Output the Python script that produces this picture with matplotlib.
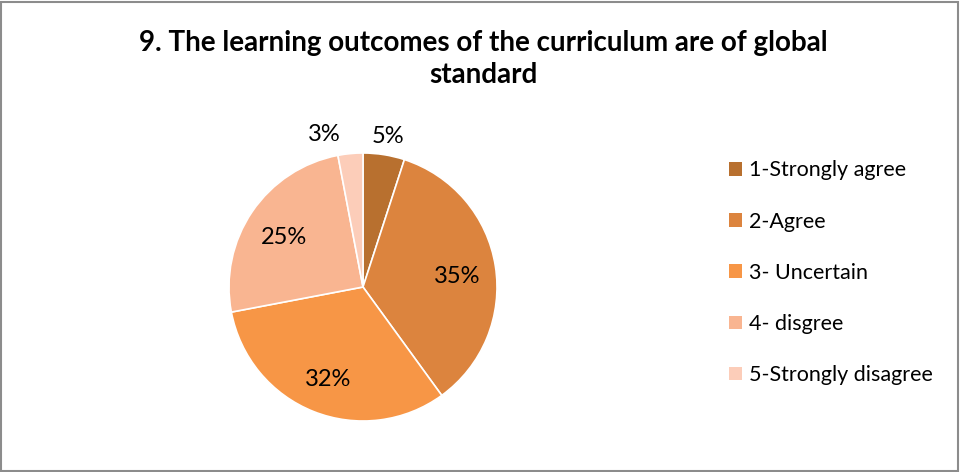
import numpy as np
import matplotlib.pyplot as plt
from matplotlib.patches import Rectangle

plt.rcParams['font.family'] = ['Lato', 'DejaVu Sans']

# survey responses
labels = ['1-Strongly agree', '2-Agree', '3- Uncertain', '4- disgree', '5-Strongly disagree']
values = [5, 35, 32, 25, 3]
colors = ['#B8702F', '#DC843E', '#F79646', '#F9B591', '#FCCDB9']

W, H = 960, 472
fig = plt.figure(figsize=(W / 100, H / 100), dpi=100)

# outer chart frame
fig.patches.append(Rectangle((1 / W, 1 / H), 1 - 3 / W, 1 - 3 / H, transform=fig.transFigure,
                             fill=False, edgecolor='#8c8c8c', linewidth=1.5))

fig.text(483 / W, 1 - 59 / H, '9. The learning outcomes of the curriculum are of global\nstandard',
         ha='center', va='center', fontsize=20, fontweight='bold', linespacing=1.25)

cx, cy, r = 363, 287, 134
ax = fig.add_axes([(cx - r) / W, (H - cy - r) / H, 2 * r / W, 2 * r / H])
wedges, _ = ax.pie(values, colors=colors, startangle=90, counterclock=False,
                   wedgeprops=dict(edgecolor='white', linewidth=1.2))
ax.set_xlim(-1, 1)
ax.set_ylim(-1, 1)
ax.set_aspect('equal')

# percent labels: small slices outside, others inside
total = sum(values)
for w, v in zip(wedges, values):
    ang = np.deg2rad((w.theta1 + w.theta2) / 2)
    pct = v / total * 100
    if pct < 10:
        d = 1.17
        x, y = d * np.cos(ang), d * np.sin(ang)
        if np.cos(ang) < 0:
            x -= 0.18
    else:
        d = 0.71
        x, y = d * np.cos(ang), d * np.sin(ang)
    ax.text(x, y - 0.03, f'{pct:.0f}%', ha='center', va='center', fontsize=17, clip_on=False)

# legend
leg = fig.legend(wedges, labels, loc='upper left', bbox_to_anchor=(710 / W, 1 - 141 / H),
                 frameon=False, fontsize=15.5, handlelength=0.6, handleheight=0.6,
                 handletextpad=0.3, labelspacing=1.45)
for h in leg.legend_handles:
    h.set_edgecolor('none')

fig.savefig('out.png', dpi=100)
